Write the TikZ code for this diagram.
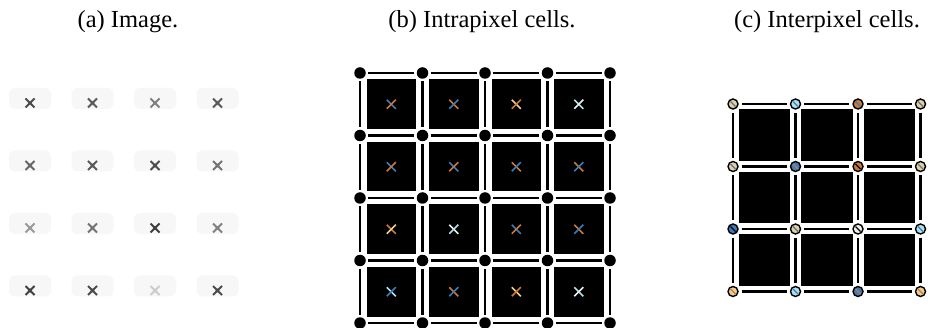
\documentclass[tikz,border=0pt]{standalone}
\usepackage{fontspec}
\setmainfont{Liberation Serif}
\definecolor{cblue}{RGB}{60,125,190}
\definecolor{corange}{RGB}{205,120,55}
\definecolor{clight}{RGB}{235,205,150}
\definecolor{ccyan}{RGB}{175,225,235}
\definecolor{cwhite}{RGB}{240,240,235}
\begin{document}
\begin{tikzpicture}[x=1pt,y=-1pt]
\tikzset{
  title/.style={anchor=base,font=\fontsize{24.5}{28}\selectfont,inner sep=0pt},
  edgeline/.style={line width=2.7pt,black,shorten <=2.5pt,shorten >=2.5pt},
  vdot/.style={circle,fill=black,inner sep=0pt,minimum size=11.5pt},
  cvert/.style={circle,draw=black,line width=1.4pt,inner sep=0pt,minimum size=10pt},
  halo/.style={fill=black!3,rounded corners=6pt},
}
\useasboundingbox (0,0) rectangle (928,328);
\fill[white] (0,0) rectangle (928,328);

% titles
\node[title] (ta) at (128,27.5) {(a) Image.};
\node[title] (tb) at (482,27.5) {(b) Intrapixel cells.};
\node[title] (tc) at (827,27.5) {(c) Interpixel cells.};

% (a) image: blurred grey crosses
\foreach \i/\j/\g in {0/0/70,1/0/65,2/0/50,3/0/65,
                      0/1/60,1/1/65,2/1/70,3/1/55,
                      0/2/40,1/2/55,2/2/75,3/2/50,
                      0/3/75,1/3/70,2/3/20,3/3/70}{
  \pgfmathsetmacro\cx{30+62.5*\i}
  \pgfmathsetmacro\cy{103+62.5*\j}
  \fill[halo] (\cx-21,\cy-15) rectangle (\cx+21,\cy+6);
  \fill[black!\g!white!60] (\cx,\cy) circle (2.2pt);
  \draw[line width=2pt,black!\g] (\cx-4.5,\cy-4.5) -- (\cx+4.5,\cy+4.5);
  \draw[line width=2pt,black!\g] (\cx+4.5,\cy-4.5) -- (\cx-4.5,\cy+4.5);
}

% (b) intrapixel cells
\foreach \i in {0,...,3}{
  \foreach \j in {0,...,3}{
    \fill[black] ({360+62.5*\i+6.5},{73+62.5*\j+6.5}) rectangle +(49.5,49.5);
  }
}
\foreach \i in {0,...,4}{
  \foreach \j in {0,...,4}{
    \node[vdot] (b\i\j) at ({360+62.5*\i},{73+62.5*\j}) {};
  }
}
\foreach \i in {0,...,3}{
  \foreach \j in {0,...,4}{
    \pgfmathtruncatemacro\k{\i+1}
    \draw[edgeline] (b\i\j) -- (b\k\j);
    \draw[edgeline] (b\j\i) -- (b\j\k);
  }
}
\foreach \i/\j/\ca/\cb in {0/0/cblue/corange,1/0/corange/cblue,2/0/clight/corange,3/0/ccyan/cwhite,
                           0/1/cblue/corange,1/1/cblue/corange,2/1/corange/cblue,3/1/corange/cblue,
                           0/2/corange/clight,1/2/cwhite/ccyan,2/2/cblue/corange,3/2/corange/cblue,
                           0/3/ccyan/cblue,1/3/corange/cblue,2/3/clight/corange,3/3/ccyan/cwhite}{
  \pgfmathsetmacro\cx{391.25+62.5*\i}
  \pgfmathsetmacro\cy{104.25+62.5*\j}
  \draw[line width=1.6pt,\ca] (\cx-4.5,\cy-4.5) -- (\cx+4.5,\cy+4.5);
  \draw[line width=1.6pt,\cb] (\cx+4.5,\cy-4.5) -- (\cx-4.5,\cy+4.5);
}

% (c) interpixel cells
\foreach \i in {0,...,2}{
  \foreach \j in {0,...,2}{
    \fill[black] ({733+62.5*\i+5.5},{104+62.5*\j+5.5}) rectangle +(51.5,51.5);
  }
}
\foreach \i/\j/\fc/\xc in {0/0/clight/cblue,1/0/ccyan/cblue,2/0/corange/cblue,3/0/clight/cblue,
                           0/1/clight/cblue,1/1/cblue/corange,2/1/corange/black,3/1/clight/cblue,
                           0/2/cblue/black,1/2/clight/cblue,2/2/cwhite/black,3/2/ccyan/cblue,
                           0/3/clight/corange,1/3/ccyan/cblue,2/3/cblue/corange,3/3/clight/corange}{
  \node[cvert,fill=\fc] (c\i\j) at ({733+62.5*\i},{104+62.5*\j}) {};
  \draw[line width=1.2pt,\xc] ([shift={(-2.5,-2.5)}]c\i\j.center) -- ([shift={(2.5,2.5)}]c\i\j.center);
}
\foreach \i in {0,...,2}{
  \foreach \j in {0,...,3}{
    \pgfmathtruncatemacro\k{\i+1}
    \draw[edgeline,shorten <=3pt,shorten >=3pt] (c\i\j) -- (c\k\j);
    \draw[edgeline,shorten <=3pt,shorten >=3pt] (c\j\i) -- (c\j\k);
  }
}
\end{tikzpicture}
\end{document}
